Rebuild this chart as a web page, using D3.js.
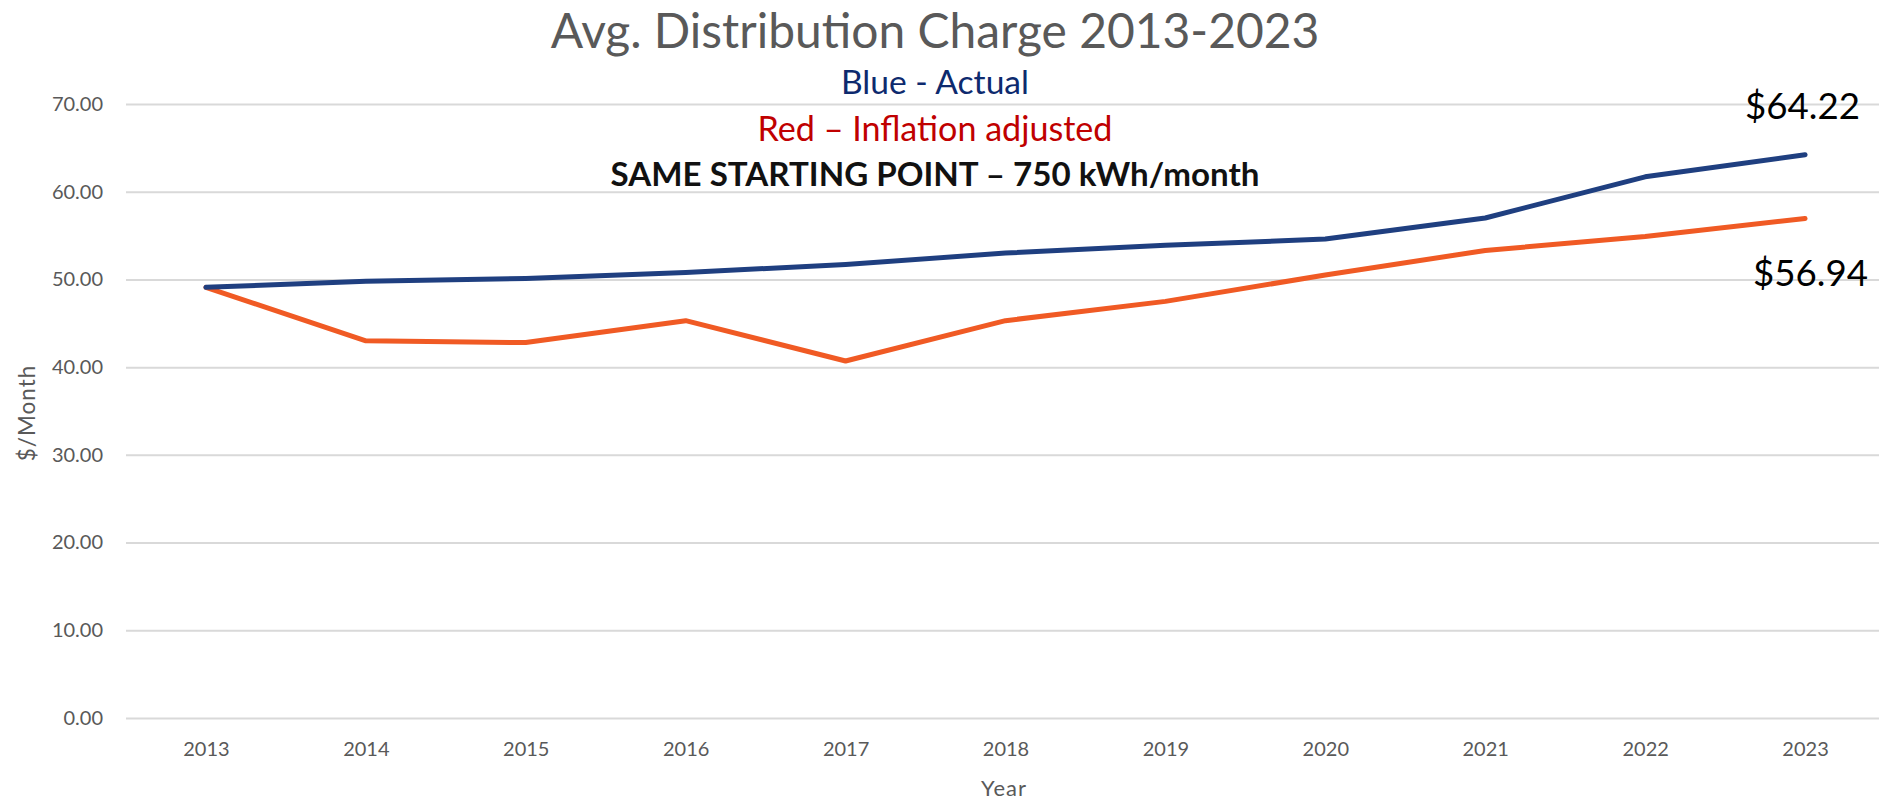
<!DOCTYPE html>
<html>
<head>
<meta charset="utf-8">
<script src="https://cdn.jsdelivr.net/npm/d3@7"></script>
<style>
  html, body { margin: 0; padding: 0; background: #fff; }
  svg { display: block; font-family: Carlito, Calibri, Lato, "Open Sans", sans-serif; }
</style>
</head>
<body>
<script>
// data
var years = ["2013","2014","2015","2016","2017","2018","2019","2020","2021","2022","2023"]
var actual = [49.1, 49.8, 50.1, 50.8, 51.7, 53.0, 53.9, 54.6, 57.0, 61.7, 64.22]
var inflationAdj = [49.1, 43.0, 42.8, 45.3, 40.7, 45.3, 47.5, 50.5, 53.3, 54.9, 56.94]
var yTicks = [0, 10, 20, 30, 40, 50, 60, 70]

var width = 1879,
    height = 803,
    plot = {left: 126, right: 1885, top: 104, bottom: 718}

var svg = d3.select("body").append("svg")
            .attr("width", width)
            .attr("height", height)

// scales
var x = d3.scalePoint()
          .domain(years)
          .range([plot.left, plot.right])
          .padding(0.5)

var y = d3.scaleLinear()
          .domain([0, 70])
          .range([plot.bottom, plot.top])

// squeeze/stretch a text to the width it has in the picture
function fitWidth(sel, target) {
  var node = sel.node()
  var fs = parseFloat(sel.attr("font-size"))
  var len = node.getComputedTextLength()
  if (len > 0) sel.attr("font-size", (fs * target / len).toFixed(2))
  return sel
}

// y axis with gridlines
var yAxis = svg.append("g")
    .attr("class", "yAxis")
    .attr("transform", "translate(" + plot.left + ",0)")
    .call(d3.axisLeft(y)
            .tickValues(yTicks)
            .tickFormat(d3.format(".2f"))
            .tickSize(-(plot.right - plot.left))
            .tickPadding(23))
yAxis.select(".domain").remove()
yAxis.selectAll("line").attr("stroke", "#d9d9d9").attr("stroke-width", 2)
yAxis.selectAll("text")
     .attr("fill", "#595959")
     .attr("font-size", 20)
     .style("font-family", "Lato, sans-serif")

// x axis (labels only)
var xAxis = svg.append("g")
    .attr("class", "xAxis")
    .attr("transform", "translate(0," + plot.bottom + ")")
    .call(d3.axisBottom(x).tickSize(0).tickPadding(24))
xAxis.select(".domain").remove()
xAxis.selectAll("text")
     .attr("fill", "#595959")
     .attr("font-size", 20)
     .style("font-family", "Lato, sans-serif")

// axis titles
fitWidth(svg.append("text")
   .attr("text-anchor", "middle")
   .attr("x", 1004)
   .attr("y", 796)
   .attr("fill", "#595959")
   .attr("font-size", 21)
   .attr("letter-spacing", 1)
   .style("font-family", "Lato, sans-serif")
   .text("Year"), 46)

fitWidth(svg.append("text")
   .attr("text-anchor", "middle")
   .attr("transform", "translate(35," + ((plot.top + plot.bottom) / 2 + 2) + ") rotate(-90)")
   .attr("fill", "#595959")
   .attr("font-size", 21)
   .attr("letter-spacing", 1)
   .style("font-family", "Lato, sans-serif")
   .text("$/Month"), 97)

// the two series
var line = d3.line()
             .x(function(d, i) { return x(years[i]) })
             .y(function(d) { return y(d) })

svg.append("path")
   .datum(inflationAdj)
   .attr("fill", "none")
   .attr("stroke", "#f05a24")
   .attr("stroke-width", 5)
   .attr("stroke-linejoin", "round")
   .attr("stroke-linecap", "round")
   .attr("d", line)

svg.append("path")
   .datum(actual)
   .attr("fill", "none")
   .attr("stroke", "#1f3f80")
   .attr("stroke-width", 5)
   .attr("stroke-linejoin", "round")
   .attr("stroke-linecap", "round")
   .attr("d", line)

// titles
var cx = 935
fitWidth(svg.append("text")
   .attr("text-anchor", "middle")
   .attr("x", cx).attr("y", 48)
   .attr("fill", "#595959")
   .attr("font-size", 46)
   .style("font-family", "Lato, sans-serif")
   .text("Avg. Distribution Charge 2013-2023"), 769)

fitWidth(svg.append("text")
   .attr("text-anchor", "middle")
   .attr("x", cx).attr("y", 94)
   .attr("fill", "#0d2a6e")
   .attr("font-size", 28)
   .style("font-family", "Lato, sans-serif")
   .text("Blue - Actual"), 188)

fitWidth(svg.append("text")
   .attr("text-anchor", "middle")
   .attr("x", cx).attr("y", 141)
   .attr("fill", "#c00000")
   .attr("font-size", 28)
   .style("font-family", "Lato, sans-serif")
   .text("Red \u2013 Inflation adjusted"), 355)

fitWidth(svg.append("text")
   .attr("text-anchor", "middle")
   .attr("x", cx).attr("y", 186)
   .attr("fill", "#111")
   .attr("font-size", 28)
   .attr("font-weight", "bold")
   .style("font-family", "Lato, sans-serif")
   .text("SAME STARTING POINT \u2013 750 kWh/month"), 649)

// end value labels
var last = years.length - 1
fitWidth(svg.append("text")
   .attr("x", x(years[last]) - 60)
   .attr("y", y(actual[last]) - 36)
   .attr("fill", "#000")
   .attr("font-size", 36)
   .style("font-family", "Lato, sans-serif")
   .text("$" + actual[last].toFixed(2)), 115)

fitWidth(svg.append("text")
   .attr("x", x(years[last]) - 52)
   .attr("y", y(inflationAdj[last]) + 67)
   .attr("fill", "#000")
   .attr("font-size", 36)
   .style("font-family", "Lato, sans-serif")
   .text("$" + inflationAdj[last].toFixed(2)), 115)
</script>
</body>
</html>
